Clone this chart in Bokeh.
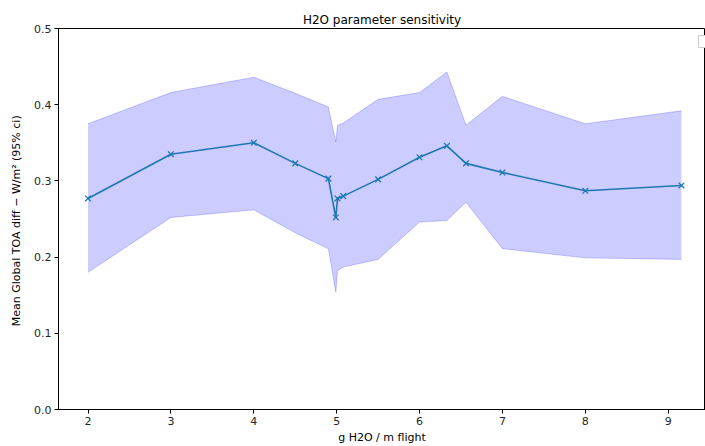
from bokeh.plotting import figure
from bokeh.models import ColumnDataSource, Range1d, FixedTicker, Label, NumeralTickFormatter
from bokeh.embed import file_html
from bokeh.resources import INLINE

# data
h2o = [2.0, 3.0, 4.0, 4.5, 4.9, 4.99, 5.01, 5.08, 5.5, 6.0, 6.33, 6.56, 7.0, 8.0, 9.16]
mean_diff = [0.277, 0.335, 0.350, 0.323, 0.303, 0.252, 0.277, 0.280, 0.302, 0.331, 0.346, 0.323, 0.311, 0.287, 0.294]
upper_ci = [0.375, 0.416, 0.436, 0.415, 0.397, 0.351, 0.373, 0.376, 0.407, 0.416, 0.443, 0.373, 0.411, 0.375, 0.392]
lower_ci = [0.180, 0.252, 0.262, 0.232, 0.211, 0.154, 0.182, 0.187, 0.197, 0.246, 0.248, 0.272, 0.211, 0.199, 0.197]
x_ticks = [2, 3, 4, 5, 6, 7, 8, 9]
y_ticks = [0.0, 0.1, 0.2, 0.3, 0.4, 0.5]

src = ColumnDataSource(dict(x=h2o, y=mean_diff, lo=lower_ci, hi=upper_ci))

FONT = "DejaVu Sans"
p = figure(width=705, height=446, output_backend="svg", toolbar_location=None,
           x_range=Range1d(1.644, 9.45), y_range=Range1d(0, 0.5),
           title="H2O parameter sensitivity",
           min_border_left=58, min_border_right=0, min_border_top=28, min_border_bottom=37)

p.title.align = "center"
p.title.text_font = FONT
p.title.text_font_size = "12px"
p.title.text_font_style = "normal"
p.title.text_color = "#000000"
p.title.standoff = 4

p.varea(x="x", y1="lo", y2="hi", source=src, fill_color="#0000ff", fill_alpha=0.2)
p.line(x="x", y="lo", source=src, line_color="#0000ff", line_alpha=0.2, line_width=1)
p.line(x="x", y="hi", source=src, line_color="#0000ff", line_alpha=0.2, line_width=1)
p.line(x="x", y="y", source=src, line_color="#1f77b4", line_width=1.6)
p.scatter(x="x", y="y", source=src, marker="x", size=8, line_color="#1f77b4", line_width=1.3)

p.xgrid.visible = False
p.ygrid.visible = False
p.outline_line_color = "#000000"
p.outline_line_width = 1
p.background_fill_color = "white"
p.border_fill_color = "white"

p.xaxis.ticker = FixedTicker(ticks=x_ticks)
p.yaxis.ticker = FixedTicker(ticks=y_ticks)
p.yaxis.formatter = NumeralTickFormatter(format="0.0")
for ax in (p.xaxis[0], p.yaxis[0]):
    ax.major_label_text_font = FONT
    ax.major_label_text_font_size = "11px"
    ax.major_label_text_color = "#262626"
    ax.axis_label_text_font = FONT
    ax.axis_label_text_font_size = "11px"
    ax.axis_label_text_font_style = "normal"
    ax.axis_label_text_color = "#000000"
    ax.minor_tick_line_color = None
    ax.major_tick_out = 4
    ax.major_tick_in = 0
    ax.major_tick_line_color = "#000000"
    ax.axis_line_color = "#000000"
    ax.major_label_standoff = 3

p.xaxis.axis_label = "g H2O / m flight"
p.xaxis.axis_label_standoff = 3
p.yaxis.axis_label = "Mean Global TOA diff \u2212 W/m\u00b2  (95% ci)"
p.yaxis.axis_label_standoff = 8

# empty legend box (as in the reference)
p.add_layout(Label(x=640, y=362, x_units="screen", y_units="screen", text=" ",
                   text_font_size="6px", border_line_color="#cccccc",
                   background_fill_color="white", padding=3))

open("out.html", "w").write(file_html(p, INLINE))
